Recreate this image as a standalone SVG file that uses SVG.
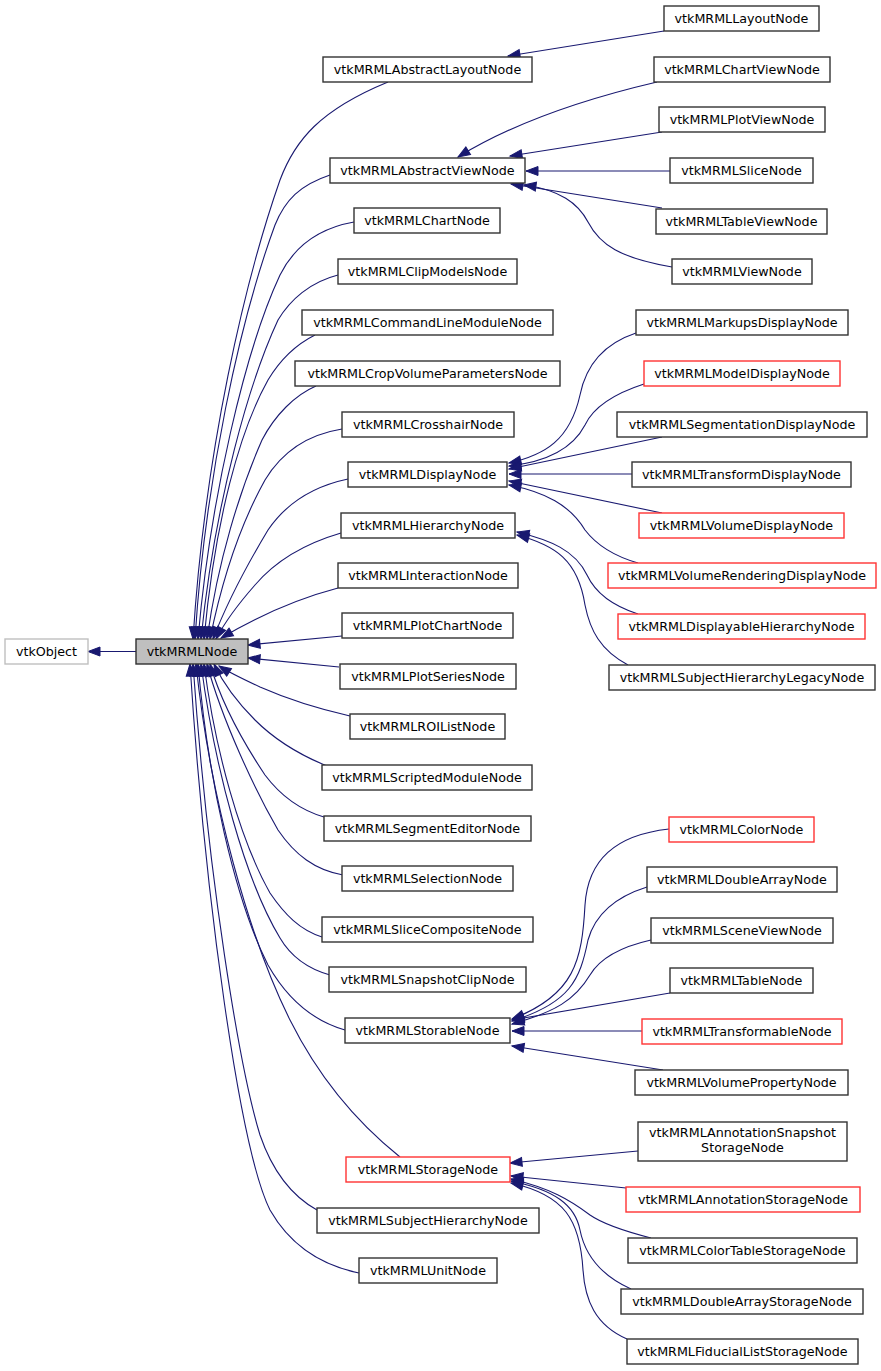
<svg xmlns="http://www.w3.org/2000/svg" width="881" height="1371" viewBox="0 0 881 1371">
<style>
.n rect{fill:#ffffff;stroke:#333333;stroke-width:1.4}
.n.r rect{stroke:#ff3333}
.n.g rect{stroke:#bfbfbf}
.n.m rect{fill:#bfbfbf;stroke:#303030}
.n text{font-family:"DejaVu Sans",Verdana,sans-serif;font-size:12.7px;fill:#000000;text-anchor:middle}
#edges path{fill:none;stroke:#191970;stroke-width:1.1;marker-end:url(#ah)}
</style>
<defs>
<marker id="ah" markerUnits="userSpaceOnUse" markerWidth="14" markerHeight="11" refX="12" refY="4.5" orient="auto" overflow="visible">
<path d="M0,0 L12,4.5 L0,9 z" fill="#191970" stroke="#191970" stroke-width="1"/>
</marker>
</defs>
<rect x="0" y="0" width="881" height="1371" fill="#ffffff"/>
<g id="edges">
<path d="M136,651.5 L88,651.5"/>
<path d="M388,82 C320,110 295,140 280,180 C245,280 205,450 193,639"/>
<path d="M330,175 C300,185 285,200 275,225 C240,320 205,480 195,639"/>
<path d="M354,222 C320,228 295,245 280,275 C245,350 210,500 198,639"/>
<path d="M338,275 C310,282 290,300 278,320 C250,380 215,500 201,639"/>
<path d="M315,335 C295,345 280,360 268,380 C240,430 215,520 204,639"/>
<path d="M316,386 C295,395 275,415 262,440 C240,490 218,560 207,639"/>
<path d="M342,429 C305,435 280,455 265,480 C240,525 222,580 210,639"/>
<path d="M348,479 C310,487 285,505 268,530 C250,560 228,600 213,639"/>
<path d="M341,533 C300,545 272,565 255,585 C240,602 226,620 216,639"/>
<path d="M338,588 C300,598 260,615 221,638"/>
<path d="M342,636 L248,645"/>
<path d="M339,667 L248,658"/>
<path d="M350,716 C315,708 285,698 260,687 C245,680 230,673 219,666"/>
<path d="M327,766 C300,755 275,740 255,720 C238,703 224,685 214,664"/>
<path d="M324,817 C300,810 280,795 265,775 C245,745 222,705 210,664"/>
<path d="M343,875 C315,870 295,855 278,830 C255,790 222,720 207,664"/>
<path d="M322,937 C300,930 285,915 270,893 C240,840 215,750 204,664"/>
<path d="M330,975 C305,968 290,955 280,938 C245,880 215,770 201,664"/>
<path d="M345,1030 C310,1020 285,995 268,965 C235,900 208,780 198,664"/>
<path d="M400,1157 C360,1125 320,1080 290,1020 C250,940 210,800 196,664"/>
<path d="M317,1210 C290,1195 272,1170 260,1135 C240,1070 208,880 193,664"/>
<path d="M359,1273 C320,1265 290,1245 270,1210 C240,1150 205,900 190,664"/>
<path d="M664,31 L508,56"/>
<path d="M657,82 C580,100 510,125 458,157"/>
<path d="M662,132 L510,156"/>
<path d="M670,171 L526,171"/>
<path d="M662,208 L511,184"/>
<path d="M672,267 C620,258 600,245 588,222 C578,203 560,190 524,185"/>
<path d="M636,333 C600,345 585,370 580,395 C570,440 545,455 509,463"/>
<path d="M644,384 C610,395 592,410 585,425 C572,450 545,462 509,466"/>
<path d="M662,437 L509,469"/>
<path d="M632,474 L509,474"/>
<path d="M662,513 L509,481"/>
<path d="M638,563 C610,555 595,543 585,530 C570,505 545,492 509,485"/>
<path d="M638,614 C610,605 595,592 587,575 C575,550 550,540 517,532"/>
<path d="M628,665 C600,650 590,630 585,605 C578,560 555,545 517,535"/>
<path d="M669,829 C615,835 588,860 585,905 C582,960 575,995 512,1019"/>
<path d="M647,887 C615,897 595,915 588,940 C580,980 570,1003 512,1021"/>
<path d="M651,940 C620,947 600,958 590,975 C575,1000 555,1012 512,1024"/>
<path d="M670,993 L512,1020"/>
<path d="M642,1031 L512,1031"/>
<path d="M663,1070 L512,1046"/>
<path d="M638,1151 L510,1163"/>
<path d="M626,1188 L511,1176"/>
<path d="M651,1238 C620,1230 600,1222 590,1215 C570,1200 550,1188 511,1179"/>
<path d="M631,1289 C600,1275 585,1255 580,1230 C575,1205 555,1190 511,1181"/>
<path d="M627,1339 C595,1325 585,1300 583,1270 C580,1220 565,1195 511,1183"/>
</g>
<g id="vtkObject" class="n g"><rect x="5" y="639" width="83" height="25"/><text x="46.5" y="656">vtkObject</text></g>
<g id="vtkMRMLNode" class="n m"><rect x="136" y="639" width="112" height="25"/><text x="192" y="656">vtkMRMLNode</text></g>
<g id="vtkMRMLAbstractLayoutNode" class="n"><rect x="323" y="57" width="209" height="25"/><text x="427.5" y="74">vtkMRMLAbstractLayoutNode</text></g>
<g id="vtkMRMLAbstractViewNode" class="n"><rect x="330" y="158" width="195" height="25"/><text x="427.5" y="175">vtkMRMLAbstractViewNode</text></g>
<g id="vtkMRMLChartNode" class="n"><rect x="354" y="208" width="146" height="25"/><text x="427" y="225">vtkMRMLChartNode</text></g>
<g id="vtkMRMLClipModelsNode" class="n"><rect x="338" y="259" width="179" height="25"/><text x="427.5" y="276">vtkMRMLClipModelsNode</text></g>
<g id="vtkMRMLCommandLineModuleNode" class="n"><rect x="302" y="310" width="251" height="25"/><text x="427.5" y="327">vtkMRMLCommandLineModuleNode</text></g>
<g id="vtkMRMLCropVolumeParametersNode" class="n"><rect x="295" y="361" width="265" height="25"/><text x="427.5" y="378">vtkMRMLCropVolumeParametersNode</text></g>
<g id="vtkMRMLCrosshairNode" class="n"><rect x="342" y="412" width="172" height="25"/><text x="428" y="429">vtkMRMLCrosshairNode</text></g>
<g id="vtkMRMLDisplayNode" class="n"><rect x="348" y="462" width="159" height="25"/><text x="427.5" y="479">vtkMRMLDisplayNode</text></g>
<g id="vtkMRMLHierarchyNode" class="n"><rect x="341" y="513" width="174" height="25"/><text x="428" y="530">vtkMRMLHierarchyNode</text></g>
<g id="vtkMRMLInteractionNode" class="n"><rect x="338" y="563" width="180" height="25"/><text x="428" y="580">vtkMRMLInteractionNode</text></g>
<g id="vtkMRMLPlotChartNode" class="n"><rect x="342" y="613" width="171" height="25"/><text x="427.5" y="630">vtkMRMLPlotChartNode</text></g>
<g id="vtkMRMLPlotSeriesNode" class="n"><rect x="340" y="664" width="176" height="25"/><text x="428" y="681">vtkMRMLPlotSeriesNode</text></g>
<g id="vtkMRMLROIListNode" class="n"><rect x="350" y="714" width="155" height="25"/><text x="427.5" y="731">vtkMRMLROIListNode</text></g>
<g id="vtkMRMLScriptedModuleNode" class="n"><rect x="322" y="765" width="210" height="25"/><text x="427" y="782">vtkMRMLScriptedModuleNode</text></g>
<g id="vtkMRMLSegmentEditorNode" class="n"><rect x="324" y="816" width="207" height="25"/><text x="427.5" y="833">vtkMRMLSegmentEditorNode</text></g>
<g id="vtkMRMLSelectionNode" class="n"><rect x="342" y="866" width="171" height="25"/><text x="427.5" y="883">vtkMRMLSelectionNode</text></g>
<g id="vtkMRMLSliceCompositeNode" class="n"><rect x="322" y="917" width="211" height="25"/><text x="427.5" y="934">vtkMRMLSliceCompositeNode</text></g>
<g id="vtkMRMLSnapshotClipNode" class="n"><rect x="329" y="967" width="197" height="25"/><text x="427.5" y="984">vtkMRMLSnapshotClipNode</text></g>
<g id="vtkMRMLStorableNode" class="n"><rect x="345" y="1018" width="165" height="25"/><text x="427.5" y="1035">vtkMRMLStorableNode</text></g>
<g id="vtkMRMLStorageNode" class="n r"><rect x="346" y="1157" width="164" height="25"/><text x="428" y="1174">vtkMRMLStorageNode</text></g>
<g id="vtkMRMLSubjectHierarchyNode" class="n"><rect x="317" y="1208" width="222" height="25"/><text x="428" y="1225">vtkMRMLSubjectHierarchyNode</text></g>
<g id="vtkMRMLUnitNode" class="n"><rect x="359" y="1258" width="138" height="25"/><text x="428" y="1275">vtkMRMLUnitNode</text></g>
<g id="vtkMRMLLayoutNode" class="n"><rect x="664" y="6" width="155" height="25"/><text x="741.5" y="23">vtkMRMLLayoutNode</text></g>
<g id="vtkMRMLChartViewNode" class="n"><rect x="654" y="57" width="176" height="25"/><text x="742" y="74">vtkMRMLChartViewNode</text></g>
<g id="vtkMRMLPlotViewNode" class="n"><rect x="659" y="107" width="166" height="25"/><text x="742" y="124">vtkMRMLPlotViewNode</text></g>
<g id="vtkMRMLSliceNode" class="n"><rect x="670" y="158" width="143" height="25"/><text x="741.5" y="175">vtkMRMLSliceNode</text></g>
<g id="vtkMRMLTableViewNode" class="n"><rect x="656" y="209" width="171" height="25"/><text x="741.5" y="226">vtkMRMLTableViewNode</text></g>
<g id="vtkMRMLViewNode" class="n"><rect x="672" y="259" width="140" height="25"/><text x="742" y="276">vtkMRMLViewNode</text></g>
<g id="vtkMRMLMarkupsDisplayNode" class="n"><rect x="636" y="310" width="212" height="25"/><text x="742" y="327">vtkMRMLMarkupsDisplayNode</text></g>
<g id="vtkMRMLModelDisplayNode" class="n r"><rect x="644" y="361" width="196" height="25"/><text x="742" y="378">vtkMRMLModelDisplayNode</text></g>
<g id="vtkMRMLSegmentationDisplayNode" class="n"><rect x="617" y="412" width="250" height="25"/><text x="742" y="429">vtkMRMLSegmentationDisplayNode</text></g>
<g id="vtkMRMLTransformDisplayNode" class="n"><rect x="632" y="462" width="219" height="25"/><text x="741.5" y="479">vtkMRMLTransformDisplayNode</text></g>
<g id="vtkMRMLVolumeDisplayNode" class="n r"><rect x="639" y="513" width="205" height="25"/><text x="741.5" y="530">vtkMRMLVolumeDisplayNode</text></g>
<g id="vtkMRMLVolumeRenderingDisplayNode" class="n r"><rect x="608" y="563" width="268" height="25"/><text x="742" y="580">vtkMRMLVolumeRenderingDisplayNode</text></g>
<g id="vtkMRMLDisplayableHierarchyNode" class="n r"><rect x="618" y="614" width="247" height="25"/><text x="741.5" y="631">vtkMRMLDisplayableHierarchyNode</text></g>
<g id="vtkMRMLSubjectHierarchyLegacyNode" class="n"><rect x="609" y="665" width="266" height="25"/><text x="742" y="682">vtkMRMLSubjectHierarchyLegacyNode</text></g>
<g id="vtkMRMLColorNode" class="n r"><rect x="669" y="817" width="145" height="25"/><text x="741.5" y="834">vtkMRMLColorNode</text></g>
<g id="vtkMRMLDoubleArrayNode" class="n"><rect x="647" y="867" width="190" height="25"/><text x="742" y="884">vtkMRMLDoubleArrayNode</text></g>
<g id="vtkMRMLSceneViewNode" class="n"><rect x="651" y="918" width="182" height="25"/><text x="742" y="935">vtkMRMLSceneViewNode</text></g>
<g id="vtkMRMLTableNode" class="n"><rect x="670" y="968" width="143" height="25"/><text x="741.5" y="985">vtkMRMLTableNode</text></g>
<g id="vtkMRMLTransformableNode" class="n r"><rect x="642" y="1019" width="200" height="25"/><text x="742" y="1036">vtkMRMLTransformableNode</text></g>
<g id="vtkMRMLVolumePropertyNode" class="n"><rect x="635" y="1070" width="213" height="25"/><text x="741.5" y="1087">vtkMRMLVolumePropertyNode</text></g>
<g id="vtkMRMLAnnotationSnapshotStorageNode" class="n"><rect x="638" y="1122" width="209" height="39"/><text x="742.5" y="1137">vtkMRMLAnnotationSnapshot</text><text x="742.5" y="1152">StorageNode</text></g>
<g id="vtkMRMLAnnotationStorageNode" class="n r"><rect x="626" y="1187" width="234" height="25"/><text x="743" y="1204">vtkMRMLAnnotationStorageNode</text></g>
<g id="vtkMRMLColorTableStorageNode" class="n"><rect x="628" y="1238" width="229" height="25"/><text x="742.5" y="1255">vtkMRMLColorTableStorageNode</text></g>
<g id="vtkMRMLDoubleArrayStorageNode" class="n"><rect x="621" y="1289" width="242" height="25"/><text x="742" y="1306">vtkMRMLDoubleArrayStorageNode</text></g>
<g id="vtkMRMLFiducialListStorageNode" class="n"><rect x="627" y="1339" width="231" height="25"/><text x="742.5" y="1356">vtkMRMLFiducialListStorageNode</text></g>
</svg>
